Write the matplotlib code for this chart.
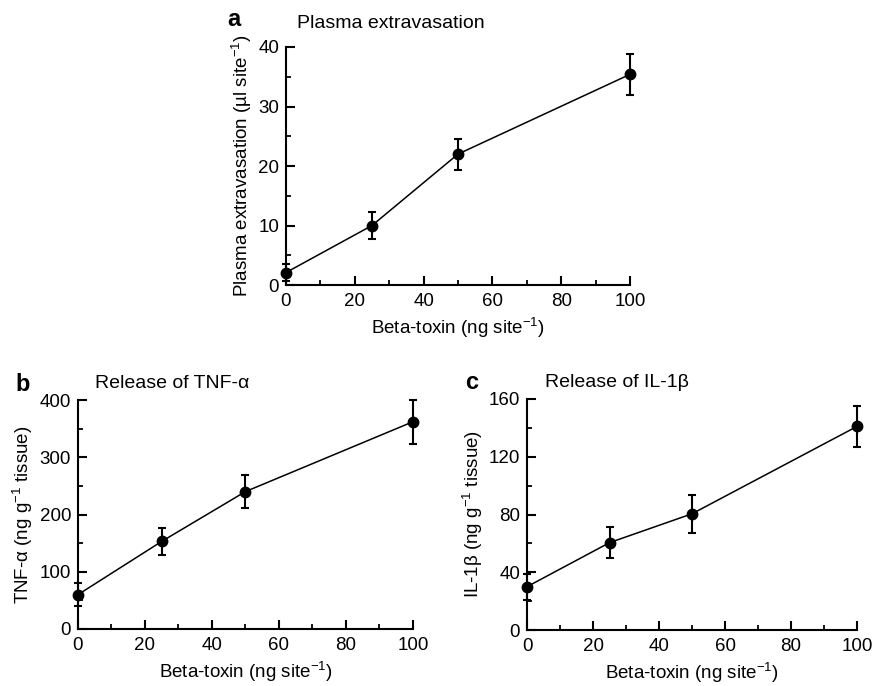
import matplotlib
matplotlib.use('Agg')
import matplotlib.pyplot as plt
import numpy as np

plt.rcParams['font.family'] = ['Liberation Sans', 'DejaVu Sans']
plt.rcParams['mathtext.default'] = 'regular'

dose = [0, 25, 50, 100]

plasma = [2.1, 10.0, 22.0, 35.4]
plasma_err = [1.5, 2.2, 2.6, 3.5]

tnf = [60, 153, 240, 362]
tnf_err = [20, 23, 29, 38]

il1b = [30, 60.5, 80.5, 141]
il1b_err = [9, 10.5, 13, 14]

xlabel = 'Beta-toxin (ng site$^{-1}$)'


def draw_panel(rect, y, err, ymax, ymajor, ylabel, title, letter, title_pos, letter_pos):
    ax = fig.add_axes(rect)
    ax.errorbar(dose, y, yerr=err, color='black', lw=1.1, marker='o', ms=7.5,
                capsize=3, capthick=1.5, elinewidth=1.5, clip_on=False, zorder=3)
    ax.set_xlim(0, 100)
    ax.set_ylim(0, ymax)
    ax.set_xticks(np.arange(0, 101, 20))
    ax.set_xticks(np.arange(10, 100, 20), minor=True)
    ax.set_yticks(np.arange(0, ymax + 1, ymajor))
    ax.set_yticks(np.arange(ymajor / 2, ymax, ymajor), minor=True)
    for s in ['top', 'right']:
        ax.spines[s].set_visible(False)
    for s in ['left', 'bottom']:
        ax.spines[s].set_linewidth(1.5)
    ax.tick_params(which='major', direction='in', length=6.5, width=1.5, labelsize=13.5)
    ax.tick_params(axis='x', which='major', pad=6)
    ax.tick_params(axis='y', which='major', pad=5)
    ax.tick_params(which='minor', direction='in', length=3.6, width=1.3)
    ax.set_xlabel(xlabel, fontsize=13.5, labelpad=4)
    ax.set_ylabel(ylabel, fontsize=13.5, labelpad=3)
    ax.text(title_pos[0], title_pos[1], title, transform=ax.transAxes, fontsize=14, va='center')
    ax.text(letter_pos[0], letter_pos[1], letter, transform=ax.transAxes, fontsize=17,
            fontweight='bold', va='center')
    return ax


fig = plt.figure(figsize=(8.73, 6.86), dpi=100)

draw_panel([0.3276, 0.5845, 0.394, 0.347], plasma, plasma_err, 40, 10,
           'Plasma extravasation (\u00b5l site$^{-1}$)', 'Plasma extravasation', 'a',
           (0.032, 1.10), (-0.17, 1.115))
draw_panel([0.0893, 0.0831, 0.3837, 0.3338], tnf, tnf_err, 400, 100,
           'TNF-\u03b1 (ng g$^{-1}$ tissue)', 'Release of TNF-\u03b1', 'b',
           (0.05, 1.074), (-0.188, 1.066))
draw_panel([0.6037, 0.0816, 0.378, 0.3368], il1b, il1b_err, 160, 40,
           'IL-1\u03b2 (ng g$^{-1}$ tissue)', 'Release of IL-1\u03b2', 'c',
           (0.055, 1.07), (-0.188, 1.07))

fig.savefig('out.png', dpi=100)
